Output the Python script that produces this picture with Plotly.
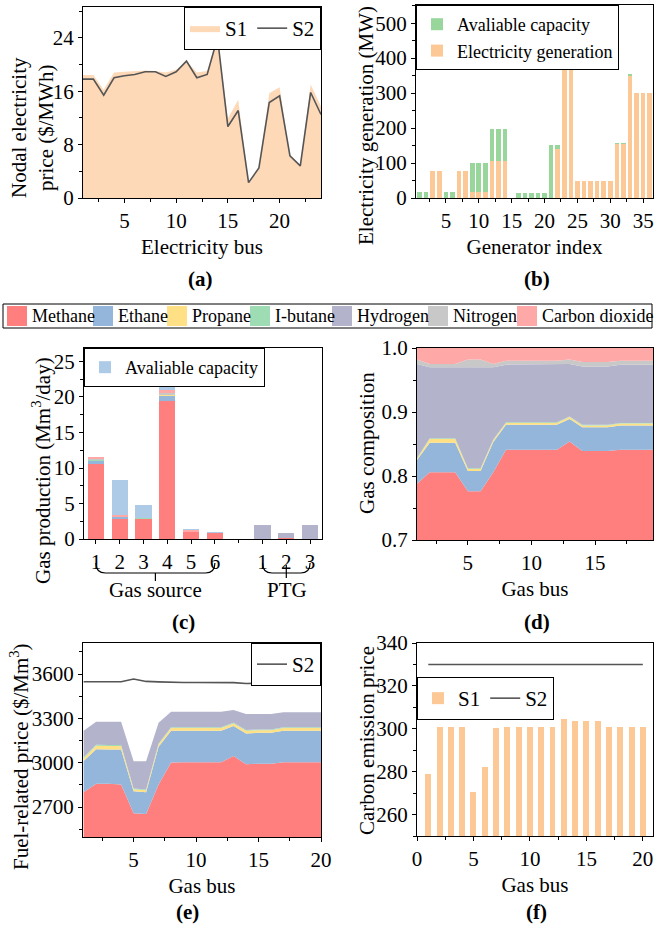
import plotly.graph_objects as go

FONT = "Liberation Serif"
W, H = 655, 926

# ---------------- data ----------------
# (a) nodal electricity price
bus_a = list(range(1, 25))
price_s1 = [18.4, 18.4, 16.2, 18.8, 18.9, 19.0, 19.1, 19.0, 18.8, 19.2, 20.5, 18.8,
            19.0, 24.0, 11.9, 14.7, 2.3, 4.5, 15.7, 16.6, 6.3, 4.8, 17.0, 13.7]
price_s2 = [17.8, 17.8, 15.4, 18.0, 18.3, 18.5, 18.9, 18.9, 18.2, 18.9, 20.5, 18.0,
            18.5, 24.0, 10.7, 13.1, 2.3, 4.5, 14.3, 15.3, 6.3, 4.8, 15.8, 12.5]

# (b) generators
gen_idx = list(range(1, 37))
gen_capacity = [18, 18, 76, 76, 18, 18, 76, 76, 99, 99, 99, 197, 197, 197, 0, 13, 13, 13,
                13, 13, 153, 153, 400, 400, 50, 50, 50, 50, 50, 50, 157, 157, 352, 300, 300, 300]
gen_output = [0, 0, 76, 76, 0, 0, 76, 76, 16, 18, 16, 105, 105, 105, 0, 0, 0, 0,
              0, 0, 0, 139, 386, 400, 50, 50, 50, 50, 50, 50, 155, 155, 350, 300, 300, 300]

# gas components
gas_names = ["Methane", "Ethane", "Propane", "I-butane", "Hydrogen", "Nitrogen", "Carbon dioxide"]
gas_colors = ["#FF7F7F", "#93B6DA", "#FFE085", "#9EDDB4", "#B3B3CC", "#C8C8C8", "#FFA8A8"]

# (c) gas production (gas sources 1-6, PTG 1-3)
prod_pos = [1, 2, 3, 4, 5, 6, 8, 9, 10]
prod_labels = ["1", "2", "3", "4", "5", "6", "1", "2", "3"]
prod_methane = [10.5, 2.86, 2.86, 19.4, 1.08, 0.85, 0, 0.2, 0]
prod_ethane = [0.5, 0.25, 0, 0.8, 0, 0.09, 0, 0, 0]
prod_propane = [0.1, 0, 0, 0.12, 0, 0, 0, 0, 0]
prod_ibutane = [0.1, 0, 0.09, 0.08, 0, 0, 0, 0, 0]
prod_hydrogen = [0, 0, 0, 0, 0, 0, 2.0, 0.7, 2.0]
prod_nitrogen = [0.05, 0, 0, 0.1, 0, 0, 0, 0, 0]
prod_co2 = [0.35, 0.28, 0, 0.5, 0.22, 0, 0, 0, 0]
prod_capacity = [11.6, 8.36, 4.74, 22.0, 1.35, 0.95, 2.0, 0.9, 2.0]

# (d) gas composition per gas bus
gas_bus = list(range(1, 21))
comp_methane = [0.788, 0.806, 0.806, 0.806, 0.776, 0.776, 0.806, 0.841, 0.841, 0.841,
                0.841, 0.841, 0.854, 0.839, 0.839, 0.839, 0.841, 0.841, 0.841, 0.841]
comp_ethane = [0.037, 0.046, 0.046, 0.046, 0.032, 0.032, 0.047, 0.039, 0.039, 0.039,
               0.039, 0.039, 0.035, 0.037, 0.037, 0.037, 0.038, 0.038, 0.038, 0.038]
comp_propane = [0.002, 0.006, 0.006, 0.006, 0.003, 0.003, 0.003, 0.003, 0.003, 0.003,
                0.003, 0.003, 0.003, 0.003, 0.003, 0.003, 0.003, 0.003, 0.003, 0.003]
comp_ibutane = [0.001, 0.001, 0.001, 0.001, 0.001, 0.001, 0.001, 0.001, 0.001, 0.001,
                0.001, 0.001, 0.001, 0.001, 0.001, 0.001, 0.001, 0.001, 0.001, 0.001]
comp_hydrogen = [0.147, 0.111, 0.111, 0.111, 0.158, 0.158, 0.113, 0.090, 0.090, 0.090,
                 0.090, 0.090, 0.082, 0.091, 0.091, 0.091, 0.091, 0.091, 0.091, 0.091]
comp_nitrogen = [0.007, 0.005, 0.005, 0.005, 0.012, 0.012, 0.005, 0.006, 0.006, 0.006,
                 0.006, 0.006, 0.007, 0.007, 0.007, 0.007, 0.006, 0.006, 0.006, 0.006]
comp_co2 = [0.018, 0.025, 0.025, 0.025, 0.018, 0.018, 0.025, 0.020, 0.020, 0.020,
            0.020, 0.020, 0.018, 0.022, 0.022, 0.022, 0.020, 0.020, 0.020, 0.020]

# (e) fuel-related price
fuel_methane = [2800, 2857, 2857, 2852, 2657, 2652, 2852, 3002, 3003, 3004,
                3003, 3003, 3045, 2989, 2993, 2993, 3003, 3003, 3003, 3003]
fuel_ethane = [211, 234, 232, 237, 150, 148, 255, 214, 213, 212,
               213, 213, 203, 209, 209, 209, 213, 213, 213, 213]
fuel_propane = [18, 24, 24, 24, 14, 14, 18, 18, 18, 18,
                18, 18, 18, 18, 18, 18, 18, 18, 18, 18]
fuel_ibutane = [6, 6, 6, 6, 5, 5, 5, 5, 5, 5,
                5, 5, 5, 5, 5, 5, 5, 5, 5, 5]
fuel_hydrogen = [181, 156, 158, 158, 183, 190, 140, 106, 106, 106,
                 106, 106, 86, 109, 105, 105, 102, 102, 102, 102]
fuel_s2 = [3548, 3548, 3548, 3548, 3566, 3550, 3547, 3543, 3543, 3543,
           3543, 3543, 3542, 3536, 3536, 3536, 3541, 3541, 3541, 3541]

# (f) carbon emission price
carbon_s1 = [278.7, 301, 301, 301, 270.7, 282.2, 300.5, 301, 301, 301,
             301, 301, 304.7, 303.8, 303.8, 303.8, 301, 301, 301, 301]
carbon_s2 = [330, 330, 330, 330, 330, 330, 330, 330, 330, 330,
             330, 330, 330, 330, 330, 330, 330, 330, 330, 330]

# ---------------- styles ----------------
C_PEACH = "#FDD9B8"
C_ORANGE = "#FCC896"
C_GREEN = "#98D69B"
C_CAPBLUE = "#ADCBE6"
C_LINE = "#555555"


def px_x(p):
    return p / W


def px_y(p):
    return 1 - p / H


fig = go.Figure()

# (a)
fig.add_trace(go.Scatter(x=bus_a, y=price_s1, mode="lines", fill="tozeroy", line=dict(width=0),
                         fillcolor=C_PEACH, name="S1", legend="legend2", xaxis="x", yaxis="y"))
fig.add_trace(go.Scatter(x=bus_a, y=price_s2, mode="lines", line=dict(color=C_LINE, width=1.6),
                         name="S2", legend="legend2", xaxis="x", yaxis="y"))

# (b)
fig.add_trace(go.Bar(x=gen_idx, y=gen_output, width=0.7, marker=dict(color=C_ORANGE, line=dict(width=0)),
                     name="Electricity generation", legend="legend3", xaxis="x2", yaxis="y2"))
fig.add_trace(go.Bar(x=gen_idx, y=[c - o for c, o in zip(gen_capacity, gen_output)], width=0.7,
                     marker=dict(color=C_GREEN, line=dict(width=0)),
                     name="Avaliable capacity", legend="legend3", xaxis="x2", yaxis="y2"))

# (c)
prod_series = [prod_methane, prod_ethane, prod_propane, prod_ibutane, prod_hydrogen, prod_nitrogen, prod_co2]
for name, col, vals in zip(gas_names, gas_colors, prod_series):
    fig.add_trace(go.Bar(x=prod_pos, y=vals, width=0.68, marker=dict(color=col, line=dict(width=0)),
                         name=name, showlegend=False, xaxis="x3", yaxis="y3"))
prod_total = [sum(v) for v in zip(*prod_series)]
fig.add_trace(go.Bar(x=prod_pos, y=[max(0, c - t) for c, t in zip(prod_capacity, prod_total)], width=0.68,
                     marker=dict(color=C_CAPBLUE, line=dict(width=0)),
                     name="Avaliable capacity", legend="legend4", xaxis="x3", yaxis="y3"))

# (d)
comp_series = [comp_methane, comp_ethane, comp_propane, comp_ibutane, comp_hydrogen, comp_nitrogen, comp_co2]
for name, col, vals in zip(gas_names, gas_colors, comp_series):
    fig.add_trace(go.Scatter(x=gas_bus, y=vals, mode="lines", stackgroup="d", line=dict(width=0),
                             fillcolor=col, name=name, showlegend=False, xaxis="x4", yaxis="y4"))

# (e)
fuel_series = [fuel_methane, fuel_ethane, fuel_propane, fuel_ibutane, fuel_hydrogen]
for name, col, vals in zip(gas_names, gas_colors, fuel_series):
    fig.add_trace(go.Scatter(x=gas_bus, y=vals, mode="lines", stackgroup="e", line=dict(width=0),
                             fillcolor=col, name=name, showlegend=False, xaxis="x5", yaxis="y5"))
fig.add_trace(go.Scatter(x=gas_bus, y=fuel_s2, mode="lines", line=dict(color=C_LINE, width=1.6),
                         name="S2", legend="legend5", xaxis="x5", yaxis="y5"))

# (f)
fig.add_trace(go.Bar(x=gas_bus, y=carbon_s1, width=0.53, marker=dict(color=C_ORANGE, line=dict(width=0)),
                     name="S1", legend="legend6", xaxis="x6", yaxis="y6"))
fig.add_trace(go.Scatter(x=gas_bus, y=carbon_s2, mode="lines", line=dict(color=C_LINE, width=1.6),
                         name="S2", legend="legend6", xaxis="x6", yaxis="y6"))

# ---------------- axes ----------------
TICKFONT = dict(family=FONT, size=21, color="black")


def axis(domain, rng, anchor, title=None, standoff=10, dtick=None, minor=None, **kw):
    d = dict(domain=domain, range=rng, anchor=anchor, showline=True, linecolor="black", linewidth=1.3,
             mirror=True, ticks="outside", ticklen=4, tickwidth=1.3, tickcolor="black", showgrid=False,
             zeroline=False, automargin=False, tickfont=TICKFONT)
    if dtick is not None:
        d["dtick"] = dtick
        d["tick0"] = 0
    if minor is not None:
        d["minor"] = dict(dtick=minor, tick0=0, ticks="outside", ticklen=2.5, tickwidth=1.3, tickcolor="black")
    if title:
        d["title"] = dict(text=title, font=dict(family=FONT, size=21, color="black"), standoff=standoff)
    d.update(kw)
    return d


def mirror_axis(base, side, anchor, rng, dtick=None, minor=None, **kw):
    d = dict(overlaying=base, side=side, anchor=anchor, range=rng, showline=False, showgrid=False,
             zeroline=False, ticks="inside", ticklen=5, tickwidth=1.3, tickcolor="black",
             showticklabels=False, automargin=False)
    if dtick is not None:
        d["dtick"] = dtick
        d["tick0"] = 0
    if minor is not None:
        d["minor"] = dict(dtick=minor, tick0=0, ticks="inside", ticklen=3, tickwidth=1.3, tickcolor="black")
    d.update(kw)
    return d


dom = {
    1: ([px_x(83), px_x(321)], [px_y(198), px_y(7)]),
    2: ([px_x(416), px_x(653)], [px_y(198), px_y(5)]),
    3: ([px_x(84), px_x(322)], [px_y(539), px_y(348)]),
    4: ([px_x(417), px_x(653)], [px_y(540), px_y(348)]),
    5: ([px_x(83), px_x(321)], [px_y(837), px_y(643)]),
    6: ([px_x(417), px_x(653)], [px_y(836), px_y(643)]),
}
xr = {1: [1, 24], 2: [0.45, 36.5], 3: [0.5, 10.5], 4: [1, 19.56], 5: [0.95, 20], 6: [0, 20.9]}
yr = {1: [0, 28.6], 2: [0, 552], 3: [0, 26.9], 4: [0.7, 1.0], 5: [2497, 3810], 6: [250, 340]}
xd = {1: (5, 2.5), 2: (5, 2.5), 3: (None, 1), 4: (5, 2.5), 5: (5, 2.5), 6: (5, 2.5)}
yd = {1: (8, 4), 2: (100, 50), 3: (5, 2.5), 4: (0.1, 0.05), 5: (300, 150), 6: (20, 10)}
xtitles = {1: "Electricity bus", 2: "Generator index", 3: None, 4: "Gas bus", 5: "Gas bus", 6: "Gas bus"}
# y titles: (text, centre x px, centre y px)
ytitles = {1: ("Nodal electricity<br>price ($/MWh)", 32, 128),
           2: ("Electricity generation (MW)", 366, 126),
           3: ("Gas production (Mm<sup>3</sup>/day)", 41, 471),
           4: ("Gas composition", 367, 443),
           5: ("Fuel-related price ($/Mm<sup>3</sup>)", 19, 757),
           6: ("Carbon emission price", 367, 740)}

layout_axes = {}
for i in range(1, 7):
    xs = "" if i == 1 else str(i)
    xk = "xaxis" + xs
    yk = "yaxis" + xs
    if i == 3:
        layout_axes[xk] = axis(dom[i][0], xr[i], "y3", minor=xd[i][1], tickvals=prod_pos, ticktext=prod_labels)
    else:
        layout_axes[xk] = axis(dom[i][0], xr[i], "y" + xs, title=xtitles[i], standoff=6,
                               dtick=xd[i][0], minor=xd[i][1])
    ykw = {}
    if i == 4:
        ykw["tickformat"] = ".1f"
    layout_axes[yk] = axis(dom[i][1], yr[i], "x" + xs, dtick=yd[i][0], minor=yd[i][1], **ykw)
    # inward ticks on top and right
    j = i + 6
    if i == 3:
        layout_axes["xaxis%d" % j] = mirror_axis("x3", "top", "y3", xr[i], minor=xd[i][1], tickvals=prod_pos)
    else:
        layout_axes["xaxis%d" % j] = mirror_axis("x" + xs, "top", "y" + xs, xr[i], dtick=xd[i][0], minor=xd[i][1])
    layout_axes["yaxis%d" % j] = mirror_axis("y" + xs, "right", "x" + xs, yr[i], dtick=yd[i][0], minor=yd[i][1])

fig.update_layout(**layout_axes)


# ---------------- legends ----------------
def legend_box(x, y, xanchor="left", orientation="v", size=18, **kw):
    d = dict(x=x, y=y, xanchor=xanchor, yanchor="top", orientation=orientation,
             bgcolor="white", bordercolor="black", borderwidth=1,
             font=dict(family=FONT, size=size, color="black"), itemwidth=30, tracegroupgap=0,
             traceorder="normal")
    d.update(kw)
    return d


fig.update_layout(
    legend2=legend_box(px_x(321), px_y(7), xanchor="right", orientation="h", size=21),
    legend3=legend_box(px_x(416), px_y(5), traceorder="reversed", size=18),
    legend4=legend_box(px_x(84), px_y(348), size=18),
    legend5=legend_box(px_x(321), px_y(643), xanchor="right", orientation="h", size=21),
    legend6=legend_box(px_x(417), px_y(677), orientation="h", size=21),
)

shapes = []
annotations = []

# y-axis titles
for i, (txt, cx, cy) in ytitles.items():
    annotations.append(dict(text=txt, xref="paper", yref="paper", x=px_x(cx), y=px_y(cy),
                            xanchor="center", yanchor="middle", textangle=-90, showarrow=False,
                            font=dict(family=FONT, size=21, color="black")))

# shared gas-component legend (top of lower panels)
shapes.append(dict(type="rect", xref="paper", yref="paper", x0=px_x(3), x1=px_x(652),
                   y0=px_y(328), y1=px_y(304), line=dict(color="black", width=1), fillcolor="white",
                   layer="below"))
legend_item_x = [7, 93, 167, 250, 332, 428, 517]
for name, col, lx in zip(gas_names, gas_colors, legend_item_x):
    shapes.append(dict(type="rect", xref="paper", yref="paper", x0=px_x(lx), x1=px_x(lx + 20),
                       y0=px_y(326), y1=px_y(306), line=dict(width=0), fillcolor=col))
    annotations.append(dict(text=name, xref="paper", yref="paper", x=px_x(lx + 23), y=px_y(316),
                            xanchor="left", yanchor="middle", showarrow=False,
                            font=dict(family=FONT, size=18, color="black")))

# braces under panel (c)
shapes.append(dict(type="path", xref="x3", yref="paper",
                   path="M 1,%f Q 1,%f 1.4,%f L 5.6,%f Q 6,%f 6,%f M 3.5,%f L 3.5,%f" % (
                       px_y(563), px_y(573), px_y(573), px_y(573), px_y(573), px_y(563), px_y(573), px_y(581)),
                   line=dict(color="black", width=1.2)))
shapes.append(dict(type="path", xref="x3", yref="paper",
                   path="M 8,%f Q 8,%f 8.4,%f L 9.6,%f Q 10,%f 10,%f M 9,%f L 9,%f" % (
                       px_y(563), px_y(573), px_y(573), px_y(573), px_y(573), px_y(563), px_y(565), px_y(578)),
                   line=dict(color="black", width=1.2)))
annotations.append(dict(text="Gas source", xref="paper", yref="paper", x=px_x(155), y=px_y(590),
                        xanchor="center", yanchor="middle", showarrow=False,
                        font=dict(family=FONT, size=21, color="black")))
annotations.append(dict(text="PTG", xref="paper", yref="paper", x=px_x(287), y=px_y(590),
                        xanchor="center", yanchor="middle", showarrow=False,
                        font=dict(family=FONT, size=21, color="black")))

# panel labels
for lab, lx, ly in [("(a)", 200, 279), ("(b)", 537, 279), ("(c)", 183, 622),
                    ("(d)", 537, 622), ("(e)", 187, 912), ("(f)", 536, 912)]:
    annotations.append(dict(text="<b>%s</b>" % lab, xref="paper", yref="paper", x=px_x(lx), y=px_y(ly),
                            xanchor="center", yanchor="middle", showarrow=False,
                            font=dict(family=FONT, size=21, color="black")))

fig.update_layout(
    width=W, height=H, margin=dict(l=0, r=0, t=0, b=0),
    paper_bgcolor="white", plot_bgcolor="white",
    barmode="stack", bargap=0,
    font=dict(family=FONT, size=21, color="black"),
    shapes=shapes, annotations=annotations,
    showlegend=True,
)

fig.write_html("out.html", config={"displayModeBar": False},
               post_script="document.body.style.margin='0px';")
